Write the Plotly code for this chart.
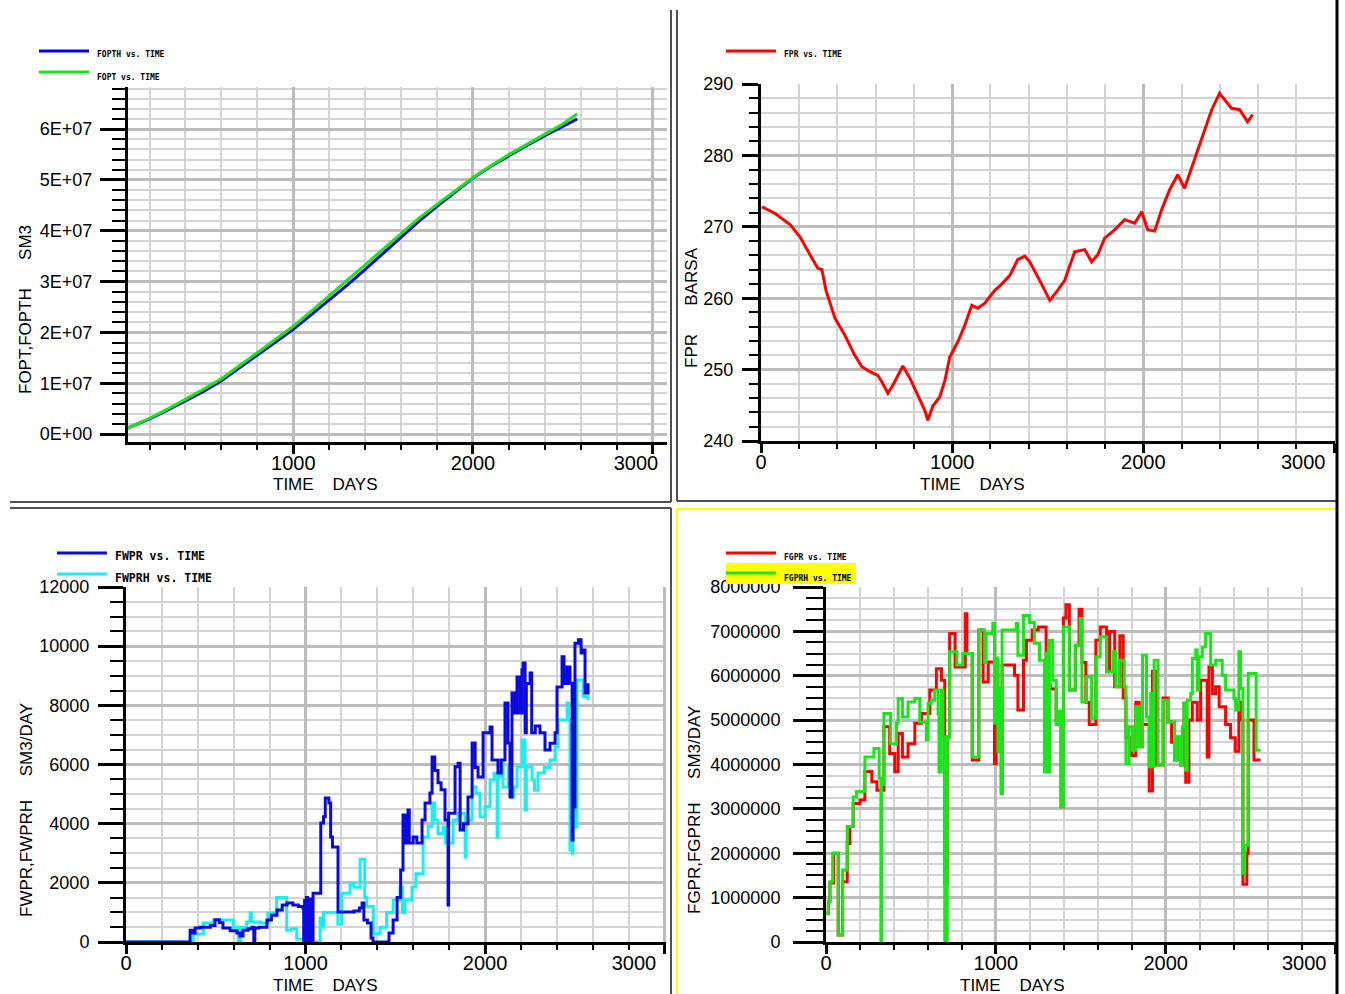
import plotly.graph_objects as go

W, H = 1345, 994

# ---------------- data ----------------
# Panel 1: FOPT / FOPTH (SM3)
t_fopt = [80, 200, 300, 400, 500, 600, 700, 800, 900, 1000, 1100, 1200, 1300, 1400,
          1500, 1600, 1700, 1800, 1900, 2000, 2100, 2200, 2300, 2400, 2500, 2580]
fopth = [0.12e7, 0.30e7, 0.47e7, 0.65e7, 0.84e7, 1.05e7, 1.30e7, 1.55e7, 1.80e7, 2.06e7,
         2.35e7, 2.64e7, 2.93e7, 3.24e7, 3.56e7, 3.88e7, 4.19e7, 4.48e7, 4.76e7, 5.04e7,
         5.27e7, 5.48e7, 5.68e7, 5.87e7, 6.05e7, 6.20e7]
fopt = [0.12e7, 0.31e7, 0.49e7, 0.68e7, 0.88e7, 1.09e7, 1.34e7, 1.60e7, 1.86e7, 2.12e7,
        2.42e7, 2.72e7, 3.02e7, 3.33e7, 3.64e7, 3.95e7, 4.25e7, 4.52e7, 4.78e7, 5.05e7,
        5.28e7, 5.50e7, 5.70e7, 5.90e7, 6.10e7, 6.30e7]

# Panel 2: FPR (BARSA)
t_fpr = [5, 73, 152, 204, 267, 298, 319, 340, 387, 439, 491, 528, 570, 611, 632, 664, 690,
         727, 742, 779, 821, 857, 873, 899, 936, 962, 988, 1030, 1066, 1103, 1134, 1171,
         1223, 1249, 1302, 1343, 1380, 1406, 1458, 1511, 1552, 1589, 1641, 1694, 1730,
         1762, 1798, 1851, 1903, 1955, 1992, 2023, 2060, 2096, 2138, 2180, 2216, 2269,
         2321, 2358, 2399, 2426, 2462, 2504, 2546, 2572]
fpr = [272.8, 271.9, 270.3, 268.6, 265.6, 264.2, 264.0, 261.1, 257.2, 254.8, 252.0, 250.4,
       249.7, 249.2, 248.3, 246.7, 247.8, 249.7, 250.5, 248.8, 246.4, 244.3, 242.9, 244.9,
       246.2, 248.5, 251.8, 253.9, 256.2, 259.0, 258.6, 259.3, 261.1, 261.7, 263.2, 265.4,
       265.9, 265.1, 262.5, 259.7, 261.1, 262.5, 266.5, 266.8, 265.1, 266.1, 268.4, 269.6,
       271.0, 270.5, 272.1, 269.6, 269.4, 272.4, 275.2, 277.3, 275.4, 279.4, 283.6, 286.4,
       288.7, 287.8, 286.6, 286.4, 284.7, 285.7]

# Panel 3: FWPR / FWPRH (SM3/DAY)
t_fwpr = [0, 340, 357, 373, 385, 412, 470, 496, 520, 540, 580, 618, 635, 652, 680, 702, 712,
          718, 740, 785, 810, 841, 870, 897, 930, 960, 985, 990, 995, 1000, 1005, 1012, 1018,
          1025, 1030, 1042, 1083, 1085, 1100, 1110, 1130, 1140, 1150, 1181, 1270, 1300, 1315,
          1325, 1345, 1365, 1376, 1443, 1465, 1488, 1510, 1530, 1543, 1555, 1571, 1578, 1600,
          1620, 1649, 1666, 1693, 1705, 1720, 1738, 1755, 1777, 1794, 1797, 1833, 1850, 1861,
          1880, 1905, 1928, 1945, 1961, 1989, 2028, 2039, 2072, 2090, 2111, 2128, 2139, 2150,
          2165, 2178, 2195, 2206, 2212, 2223, 2230, 2251, 2260, 2280, 2306, 2334, 2362, 2390,
          2401, 2429, 2440, 2457, 2473, 2485, 2490, 2501, 2520, 2535, 2546, 2557, 2574]
fwpr = [0, 0, 400, 300, 470, 500, 560, 750, 650, 470, 380, 300, 200, 400, 450, 500, 0,
        470, 500, 740, 900, 1080, 1250, 1320, 1250, 1200, 1150, 0, 1400, 300, 1500, 0, 1300,
        1450, 0, 1650, 1650, 4020, 4230, 4870, 4700, 3550, 3210, 1010, 1050, 1150, 1320,
        740, 640, 135, 0, 0, 300, 740, 1500, 2430, 4290, 3350, 4460, 3350, 3550,
        3350, 4120, 4700, 5040, 6250, 5800, 5380, 5150, 4120, 1250, 4350, 5920, 6040, 3790,
        4000, 4900, 6730, 5900, 5580, 7070, 7270, 6150, 5710, 6150, 8080, 6730, 4900, 8420,
        7740, 8960, 7740, 9200, 9430, 7070, 8740, 9090, 7070, 7300, 7070, 6490, 6720, 7070,
        8620, 9640, 8740, 9300, 8750, 3450, 4560, 10100, 10220, 9770, 9870, 8420, 8750]
t_fwprh = [0, 365, 375, 431, 486, 598, 626, 640, 672, 691, 700, 747, 790, 839, 895, 920, 951,
           1007, 1081, 1090, 1100, 1155, 1180, 1202, 1248, 1270, 1304, 1330, 1341, 1378, 1415,
           1452, 1488, 1526, 1540, 1555, 1593, 1615, 1655, 1683, 1705, 1720, 1738, 1767, 1780,
           1822, 1850, 1889, 1895, 1928, 1950, 1972, 2000, 2028, 2050, 2067, 2072, 2090, 2100,
           2130, 2145, 2160, 2178, 2206, 2223, 2230, 2262, 2275, 2295, 2330, 2362, 2390, 2407,
           2440, 2457, 2465, 2473, 2485, 2490, 2501, 2512, 2530, 2546, 2574]
fwprh = [0, 0, 270, 640, 740, 500, 0, 500, 680, 980, 680, 640, 980, 1500, 400, 450, 100,
         0, 800, 500, 1000, 1000, 600, 1650, 1980, 1850, 2800, 1500, 1200, 280, 500,
         1000, 1420, 1860, 1000, 1420, 1860, 2310, 3550, 3900, 4700, 4120, 3670, 3890, 3350,
         4120, 4350, 2870, 4120, 5240, 5020, 4230, 4570, 5480, 5700, 3550, 5600, 6040, 5240,
         5900, 4900, 5240, 5920, 6830, 4460, 5920, 5480, 5130, 5710, 5900, 6150, 6590, 7500,
         7500, 8080, 7500, 3110, 3000, 4560, 3890, 8860, 8860, 8290, 8180]

# Panel 4: FGPR / FGPRH (SM3/DAY)
t_fgpr = [0, 14, 23, 45, 72, 98, 125, 140, 160, 200, 229, 270, 300, 341, 375, 405, 425, 450,
          483, 523, 562, 611, 650, 680, 699, 714, 728, 760, 820, 830, 861, 900, 925, 955, 992,
          1002, 1012, 1022, 1032, 1037, 1110, 1130, 1163, 1180, 1215, 1250, 1296, 1320, 1355,
          1384, 1398, 1413, 1433, 1468, 1490, 1507, 1530, 1550, 1589, 1615, 1652, 1670, 1700,
          1730, 1750, 1766, 1800, 1824, 1844, 1864, 1903, 1922, 1940, 1985, 2014, 2035, 2053,
          2069, 2090, 2108, 2118, 2137, 2157, 2186, 2206, 2245, 2255, 2275, 2294, 2315, 2353,
          2382, 2410, 2431, 2441, 2455, 2478, 2486, 2520, 2559]
fgpr = [0.65e6, 0.91e6, 1.33e6, 2.0e6, 0.16e6, 1.36e6, 2.22e6, 2.6e6, 3.12e6, 3.2e6, 3.84e6,
        3.61e6, 3.42e6, 4.85e6, 4.25e6, 3.84e6, 4.7e6, 4.17e6, 4.47e6, 4.93e6, 5.15e6, 5.68e6,
        6.16e6, 5.9e6, 1.32e6, 4.62e6, 6.95e6, 6.2e6, 7.4e6, 6.5e6, 4.1e6, 7.03e6, 5.86e6,
        6.31e6, 4.02e6, 6.3e6, 4.3e6, 5.7e6, 3.35e6, 6.24e6, 6.01e6, 5.23e6, 6.35e6, 6.8e6,
        7.03e6, 7.1e6, 5.8e6, 5.7e6, 5.0e6, 3.05e6, 7.3e6, 7.6e6, 5.68e6, 6.69e6, 7.5e6, 6.3e6,
        5.4e6, 4.9e6, 6.8e6, 7.1e6, 6.09e6, 7.0e6, 5.75e6, 6.9e6, 5.5e6, 4.6e6, 4.2e6, 5.4e6,
        4.4e6, 4.9e6, 3.4e6, 6.1e6, 3.99e6, 5.5e6, 4.96e6, 4.5e6, 4.1e6, 4.62e6, 3.99e6,
        5.38e6, 3.6e6, 5.0e6, 5.4e6, 5.0e6, 5.9e6, 4.17e6, 6.2e6, 5.6e6, 5.75e6, 5.3e6, 4.9e6,
        4.6e6, 4.3e6, 5.4e6, 5.0e6, 1.3e6, 2.0e6, 5.0e6, 4.1e6, 4.1e6]
t_fgprh = [0, 14, 23, 39, 72, 98, 125, 160, 180, 229, 282, 313, 323, 327, 341, 380, 415, 425,
           450, 483, 523, 552, 591, 601, 620, 640, 660, 665, 679, 689, 699, 714, 728, 771, 806,
           861, 900, 934, 943, 982, 992, 1002, 1012, 1022, 1032, 1037, 1120, 1130, 1163, 1198,
           1227, 1257, 1286, 1296, 1306, 1316, 1335, 1355, 1370, 1384, 1398, 1433, 1468, 1496,
           1507, 1534, 1564, 1589, 1615, 1652, 1691, 1707, 1727, 1756, 1766, 1785, 1805, 1824,
           1844, 1864, 1887, 1903, 1912, 1922, 1932, 1955, 1985, 2014, 2053, 2069, 2088, 2098,
           2108, 2118, 2127, 2147, 2157, 2177, 2186, 2196, 2216, 2235, 2265, 2294, 2333, 2353,
           2402, 2412, 2431, 2441, 2455, 2466, 2486, 2533, 2559]
fgprh = [0.65e6, 0.91e6, 1.36e6, 2.0e6, 0.16e6, 1.62e6, 2.6e6, 3.27e6, 3.39e6, 4.17e6,
         4.36e6, 3.69e6, 0.0, 3.55e6, 5.15e6, 4.47e6, 4.93e6, 5.49e6, 5.07e6, 5.41e6, 5.49e6,
         4.96e6, 4.55e6, 5.38e6, 5.45e6, 5.68e6, 5.15e6, 3.83e6, 5.68e6, 4.62e6, 0.0, 4.62e6,
         6.54e6, 6.24e6, 6.5e6, 4.17e6, 7.03e6, 6.3e6, 6.95e6, 7.18e6, 4.93e6, 6.4e6, 4.3e6,
         5.7e6, 3.35e6, 7.03e6, 7.18e6, 6.46e6, 7.36e6, 7.2e6, 6.73e6, 6.35e6, 3.83e6, 6.5e6,
         3.83e6, 6.8e6, 5.9e6, 4.9e6, 5.2e6, 3.05e6, 7.1e6, 5.68e6, 6.69e6, 7.29e6, 5.41e6,
         5.98e6, 5.04e6, 6.43e6, 6.88e6, 6.09e6, 6.54e6, 5.75e6, 6.35e6, 5.75e6, 4.02e6,
         4.85e6, 4.32e6, 5.3e6, 4.4e6, 6.46e6, 5.07e6, 3.95e6, 5.6e6, 3.95e6, 6.35e6, 3.99e6,
         5.45e6, 4.96e6, 4.1e6, 4.62e6, 3.99e6, 4.85e6, 5.38e6, 3.87e6, 5.45e6, 5.6e6, 6.39e6,
         6.58e6, 5.68e6, 6.43e6, 6.65e6, 6.95e6, 6.24e6, 6.35e6, 6.01e6, 5.68e6, 5.49e6,
         5.23e6, 6.54e6, 5.71e6, 1.55e6, 2.18e6, 6.05e6, 4.32e6, 4.32e6]

# ticks / labels
x_tickvals = [0, 1000, 2000, 3000]
x_ticktext = ["0", "1000", "2000", "3000"]
y1_tickvals = [0, 1e7, 2e7, 3e7, 4e7, 5e7, 6e7]
y1_ticktext = ["0E+00", "1E+07", "2E+07", "3E+07", "4E+07", "5E+07", "6E+07"]

# ---------------- helpers ----------------
def fx(p):
    return p / W


def fy(p):
    return 1 - p / H


FONT = "Liberation Sans, Arial, sans-serif"
MONO = "DejaVu Sans Mono, Liberation Mono, monospace"
NB = "\u00a0"


def xaxis(dom, anchor, rng, shift, edge=False):
    if edge:
        # last label is drawn as an annotation right-aligned to its tick (panel edge)
        txt = x_ticktext[:-1] + [""]
    else:
        txt = x_ticktext[:-1] + [x_ticktext[-1] + NB * shift]
    return dict(
        domain=[fx(dom[0]), fx(dom[1])], anchor=anchor, range=rng, automargin=False,
        tickmode="array", tickvals=x_tickvals, ticktext=txt,
        ticks="outside", ticklen=9, tickwidth=3, tickcolor="black",
        showline=True, linecolor="black", linewidth=3,
        showgrid=True, gridcolor="#bcbcbc", gridwidth=3, zeroline=False,
        minor=dict(tickmode="linear", tick0=0, dtick=200, ticks="outside", ticklen=5,
                   tickwidth=2, tickcolor="black", showgrid=True, gridcolor="#d4d4d4",
                   gridwidth=2),
        tickfont=dict(family=FONT, size=20, color="black"), fixedrange=True,
        ticklabelstandoff=-8, ticklabeloverflow="allow",
    )


def yaxis(dom, anchor, rng, major, minor, tlen, mlen, standoff, **kw):
    d = dict(
        domain=[fy(dom[1]), fy(dom[0])], anchor=anchor, range=rng, automargin=False,
        ticks="outside", ticklen=tlen, tickwidth=3, tickcolor="black",
        showline=True, linecolor="black", linewidth=3,
        showgrid=True, gridcolor="#bcbcbc", gridwidth=3, zeroline=False,
        minor=dict(tickmode="linear", tick0=0, dtick=minor, ticks="outside", ticklen=mlen,
                   tickwidth=2, tickcolor="black", showgrid=True, gridcolor="#d4d4d4",
                   gridwidth=2),
        tickfont=dict(family=FONT, size=18, color="black"), fixedrange=True,
        ticklabelstandoff=standoff, ticklabeloverflow="allow",
    )
    if major is not None:
        d.update(tickmode="linear", tick0=0, dtick=major)
    d.update(kw)
    return d


fig = go.Figure()

BLUE = "#0000ff"
DBLUE = "#0a0ae0"
GREEN = "#18e618"
RED = "#ff0000"
CYAN = "#18f0f0"


def line(x, y, xa, ya, color, shape="linear"):
    fig.add_trace(go.Scatter(x=x, y=y, xaxis=xa, yaxis=ya, mode="lines",
                             line=dict(color=color, width=3, shape=shape),
                             showlegend=False, hoverinfo="skip"))


line(t_fopt, fopth, "x", "y", BLUE)
line(t_fopt, fopt, "x", "y", GREEN)
line(t_fpr, fpr, "x2", "y2", RED)
line(t_fwprh, fwprh, "x3", "y3", CYAN, "hv")
line(t_fwpr, fwpr, "x3", "y3", DBLUE, "hv")
line(t_fgpr, fgpr, "x4", "y4", RED, "hv")
line(t_fgprh, fgprh, "x4", "y4", GREEN, "hv")

fig.update_layout(
    width=W, height=H, autosize=False,
    margin=dict(l=0, r=0, t=0, b=0, autoexpand=False),
    paper_bgcolor="white", plot_bgcolor="white",
    xaxis=xaxis((128, 667), "y", [80, 3080], 6),
    yaxis=yaxis((87, 442), "x", [-1.57e6, 6.83e7], None, 2e6, 25, 13, 4,
                tickmode="array", tickvals=y1_tickvals, ticktext=y1_ticktext),
    xaxis2=xaxis((761, 1335), "y2", [0, 3003], 0, edge=True),
    yaxis2=yaxis((84, 441), "x2", [240, 290], 10, 2, 16, 9, 5),
    xaxis3=xaxis((126, 666), "y3", [0, 3008], 11),
    yaxis3=yaxis((587, 942), "x3", [0, 12000], 2000, 500, 25, 13, 5, tickformat="d"),
    xaxis4=xaxis((826, 1336), "y4", [0, 3003], 0, edge=True),
    yaxis4=yaxis((587, 942), "x4", [0, 8e6], 1e6, 2.5e5, 30, 17, 9, tickformat="d"),
)

shapes = []
ann = []


def seg(x0, y0, x1, y1, color, width):
    shapes.append(dict(type="line", xref="paper", yref="paper", x0=fx(x0), y0=fy(y0),
                       x1=fx(x1), y1=fy(y1), line=dict(color=color, width=width)))


# panel borders
BORDER = "#505050"
seg(671, 10, 671, 502, BORDER, 2)
seg(10, 502, 671, 502, BORDER, 2)
seg(677, 10, 677, 501, BORDER, 2)
seg(677, 501, 1337, 501, BORDER, 2)
seg(10, 508, 671, 508, BORDER, 2)
seg(671, 508, 671, 994, BORDER, 2)
shapes.append(dict(type="rect", xref="paper", yref="paper", x0=fx(677), y0=fy(996),
                   x1=fx(1337), y1=fy(509), line=dict(color="#ffff00", width=2)))
seg(1337, 0, 1337, 994, "black", 3)

# legends
shapes.append(dict(type="rect", xref="paper", yref="paper", x0=fx(726), y0=fy(584),
                   x1=fx(856), y1=fy(563), fillcolor="#ffff00", line=dict(width=0)))


def legend(x0, y, color, text, size, ty):
    seg(x0, y, x0 + 50, y, color, 3)
    ann.append(dict(xref="paper", yref="paper", x=fx(x0 + 56), y=fy(ty), text="<b>" + text + "</b>",
                    showarrow=False, xanchor="left", yanchor="middle",
                    font=dict(family=MONO, size=size, color="black")))


legend(39, 51, BLUE, "FOPTH vs. TIME", 8, 55)
legend(39, 72, GREEN, "FOPT vs. TIME", 8, 77)
legend(726, 51, RED, "FPR vs. TIME", 8, 55)
legend(57, 553, DBLUE, "FWPR vs. TIME", 11.5, 556)
legend(57, 574, CYAN, "FWPRH vs. TIME", 11.5, 578)
legend(726, 553, RED, "FGPR vs. TIME", 8, 557)
legend(726, 573, GREEN, "FGPRH vs. TIME", 8, 578)


def title(x, y, text, angle=0):
    ann.append(dict(xref="paper", yref="paper", x=fx(x), y=fy(y), text=text, showarrow=False,
                    xanchor="center", yanchor="middle", textangle=angle,
                    font=dict(family=FONT, size=17, color="black")))


title(325, 484, "TIME" + NB * 4 + "DAYS")
title(972, 484, "TIME" + NB * 4 + "DAYS")
title(325, 985, "TIME" + NB * 4 + "DAYS")
title(1012, 985, "TIME" + NB * 4 + "DAYS")
title(26, 310, "FOPT,FOPTH" + NB * 6 + "SM3", -90)
title(691, 308, "FPR" + NB * 6 + "BARSA", -90)
title(26, 810, "FWPR,FWPRH" + NB * 5 + "SM3/DAY", -90)
title(694, 810, "FGPR,FGPRH" + NB * 5 + "SM3/DAY", -90)

# last x tick label of the right-hand panels, right-aligned to its tick
for xr, ypx in (("x2", 462), ("x4", 963)):
    ann.append(dict(xref=xr, yref="paper", x=x_tickvals[-1], y=fy(ypx), text=x_ticktext[-1],
                    showarrow=False, xanchor="right", yanchor="middle", xshift=-6,
                    font=dict(family=FONT, size=20, color="black")))

fig.update_layout(shapes=shapes, annotations=ann)

fig.write_html("out.html", config={"displayModeBar": False},
               post_script="document.body.style.margin='0px';")
